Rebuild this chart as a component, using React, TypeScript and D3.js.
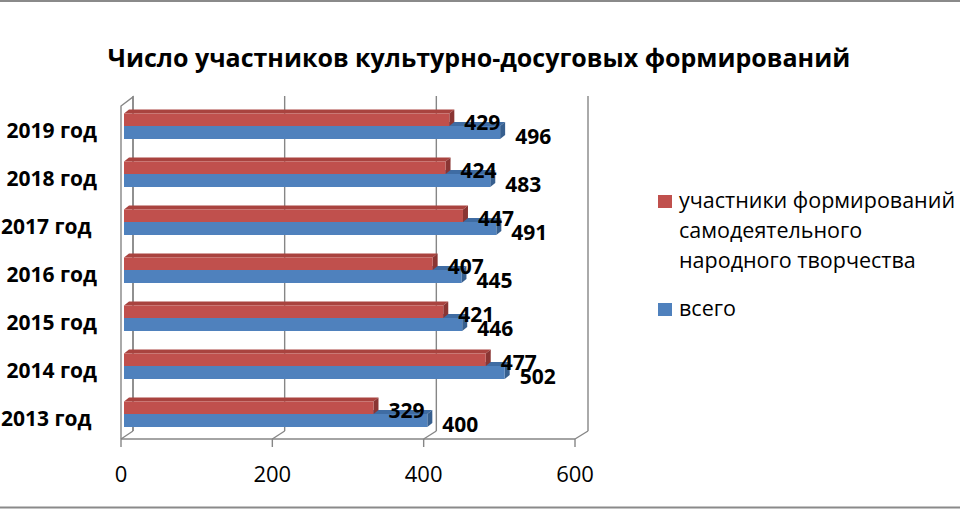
import React from "react";
import * as d3 from "d3";

const titleText = "Число участников культурно-досуговых формирований";
const years = ["2019 год", "2018 год", "2017 год ", "2016 год", "2015 год", "2014 год", "2013 год "];
const participants = [429, 424, 447, 407, 421, 477, 329];
const totals = [496, 483, 491, 445, 446, 502, 400];
const xTicks = [0, 200, 400, 600];
const legendRedLines = ["участники формирований", "самодеятельного", "народного творчества"];
const legendBlue = "всего";

const W = 960;
const H = 510;
const FONT = "'Open Sans', Lato, 'DejaVu Sans', sans-serif";

const RED = { front: "#C0504D", top: "#A9433F", side: "#8A3533" };
const BLUE = { front: "#4F81BD", top: "#3F6CA3", side: "#375F8E" };
const GRID = "#868686";

export default function App() {
  const yBand = d3.scaleBand<string>().domain(years).range([102, 438]);
  const xBar = d3.scaleLinear().domain([0, 600]).range([124, 579]);
  const xFront = d3.scaleLinear().domain([0, 600]).range([121, 575]);
  const xBack = d3.scaleLinear().domain([0, 600]).range([133, 588]);
  const floorFront = 439;
  const floorBack = 431;
  const wallTop = 96;
  const bdx = 5;
  const bdy = 4;

  const bar = (v: number, y0: number, y1: number, c: { front: string; top: string; side: string }, key: string) => {
    const x0 = xBar(0);
    const x1 = xBar(v);
    const top = `${x0},${y0} ${x1},${y0} ${x1 + bdx},${y0 - bdy} ${x0 + bdx},${y0 - bdy}`;
    const side = `${x1},${y0} ${x1 + bdx},${y0 - bdy} ${x1 + bdx},${y1 - bdy} ${x1},${y1}`;
    return (
      <g key={key}>
        <polygon points={top} fill={c.top} />
        <polygon points={side} fill={c.side} />
        <rect x={x0} y={y0} width={x1 - x0} height={y1 - y0} fill={c.front} />
      </g>
    );
  };

  return (
    <svg width={W} height={H} style={{ position: "absolute", left: 0, top: 0, background: "#fff" }}>
      <rect x={0} y={0} width={W} height={H} fill="#fff" />
      <line x1={0} x2={W} y1={1} y2={1} stroke="#8a8a8a" strokeWidth={2} />
      <line x1={0} x2={W} y1={507.5} y2={507.5} stroke="#8a8a8a" strokeWidth={2} />

      <text x={479} y={67} textAnchor="middle" fontFamily={FONT} fontWeight="bold" fontSize={25} fill="#000">
        {titleText}
      </text>

      {/* walls and gridlines */}
      <g stroke={GRID} strokeWidth={1.4} fill="none">
        <polyline points={`${xFront(0)},${floorFront} ${xFront(0)},${wallTop + 10} ${xBack(0)},${wallTop + 1} ${xBack(0)},${floorBack}`} />
        <line x1={xFront(0)} y1={floorFront} x2={xFront(600)} y2={floorFront} />
        {xTicks.map((t) => (
          <g key={t}>
            <line x1={xBack(t)} y1={floorBack} x2={xBack(t)} y2={wallTop} />
            <line x1={xFront(t)} y1={floorFront} x2={xBack(t)} y2={floorBack} />
            <line x1={xFront(t)} y1={floorFront} x2={xFront(t)} y2={floorFront + 8} />
          </g>
        ))}
      </g>

      {/* bars */}
      {years.map((y, i) => {
        const c = (yBand(y) as number) + yBand.bandwidth() / 2;
        return (
          <g key={y}>
            {bar(totals[i], c, c + 13, BLUE, "b")}
            {bar(participants[i], c - 12.5, c, RED, "r")}
          </g>
        );
      })}

      {/* data labels */}
      {years.map((y, i) => {
        const c = (yBand(y) as number) + yBand.bandwidth() / 2;
        return (
          <g key={y} fontFamily={FONT} fontWeight="bold" fontSize={21} fill="#000">
            <text x={xBar(participants[i]) + 15} y={c - 4} dominantBaseline="central">{participants[i]}</text>
            <text x={xBar(totals[i]) + 15} y={c + 9.5} dominantBaseline="central">{totals[i]}</text>
          </g>
        );
      })}

      {/* category labels */}
      {years.map((y) => {
        const c = (yBand(y) as number) + yBand.bandwidth() / 2;
        return (
          <text key={y} x={97} y={c + 4} textAnchor="end" dominantBaseline="central" fontFamily={FONT} fontWeight="bold" fontSize={21} fill="#000" style={{ whiteSpace: "pre" }}>
            {y}
          </text>
        );
      })}

      {/* x tick labels */}
      {xTicks.map((t) => (
        <text key={t} x={xFront(t)} y={482} textAnchor="middle" fontFamily={FONT} fontSize={22} fill="#000">
          {t}
        </text>
      ))}

      {/* legend */}
      <rect x={658} y={195} width={14} height={13} fill={RED.front} />
      {legendRedLines.map((l, i) => (
        <text key={l} x={679} y={208 + i * 30} fontFamily={FONT} fontSize={21.5} fill="#000">{l}</text>
      ))}
      <rect x={658} y={303} width={14} height={13} fill={BLUE.front} />
      <text x={679} y={316} fontFamily={FONT} fontSize={21.5} fill="#000">{legendBlue}</text>
    </svg>
  );
}
